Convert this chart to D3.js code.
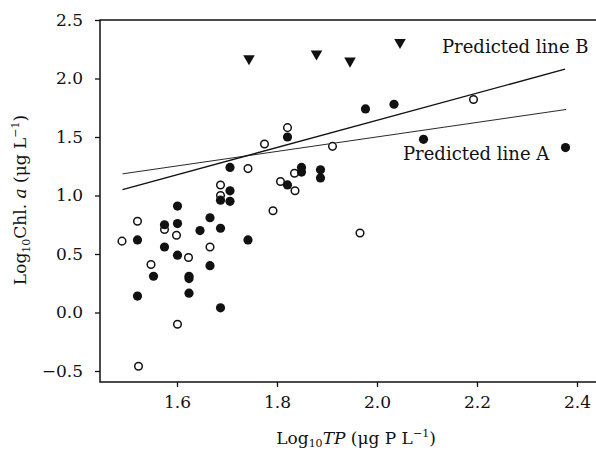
<!DOCTYPE html>
<html lang="en">
<head>
    <meta charset="UTF-8">
    <script src="https://d3js.org/d3.v7.min.js"></script>
    <style>
        body { margin: 0; background: #fff; }
        svg text { font-family: "DejaVu Serif", serif; fill: #111; }
    </style>
</head>
<body>
<div id="chart"></div>
<script>
// Open circles
var openTP  = [1.49, 1.521, 1.575, 1.599, 1.623, 1.548, 1.666, 1.601, 1.523, 1.821, 1.775, 1.742, 1.687, 1.687, 1.807, 1.835, 1.836, 1.792, 1.911, 2.193, 1.966];
var openChl = [0.61, 0.78, 0.71, 0.66, 0.47, 0.41, 0.56, -0.10, -0.46, 1.58, 1.44, 1.23, 1.09, 1.00, 1.12, 1.19, 1.04, 0.87, 1.42, 1.82, 0.68];

// Filled circles
var filledTP  = [1.521, 1.521, 1.575, 1.575, 1.601, 1.601, 1.601, 1.553, 1.624, 1.624, 1.624, 1.646, 1.666, 1.666, 1.687, 1.687, 1.687, 1.742, 1.706, 1.706, 1.706, 1.821, 1.849, 1.849, 1.821, 1.887, 1.887, 1.977, 2.034, 2.093, 2.377];
var filledChl = [0.62, 0.14, 0.75, 0.56, 0.76, 0.49, 0.91, 0.31, 0.31, 0.29, 0.165, 0.70, 0.40, 0.81, 0.72, 0.04, 0.96, 0.62, 1.24, 1.04, 0.95, 1.50, 1.24, 1.20, 1.09, 1.22, 1.15, 1.74, 1.78, 1.48, 1.41];

// Inverted triangles
var triTP  = [1.744, 1.879, 1.946, 2.046];
var triChl = [2.17, 2.21, 2.15, 2.31];

// Predicted lines (end points)
var lineA_TP = [1.491, 2.378], lineA_Chl = [1.185, 1.735];
var lineB_TP = [1.491, 2.376], lineB_Chl = [1.05, 2.08];

var xTicks = [1.6, 1.8, 2.0, 2.2, 2.4];
var yTicks = [-0.5, 0.0, 0.5, 1.0, 1.5, 2.0, 2.5];

var W = 596, H = 450;
var margin = { top: 20, right: -2, bottom: 68, left: 100 };
var width = W - margin.left - margin.right,
    height = H - margin.top - margin.bottom;

var svg = d3.select("#chart").append("svg")
    .attr("width", W).attr("height", H)
  .append("g")
    .attr("transform", `translate(${margin.left},${margin.top})`);

var x = d3.scaleLinear().domain([1.446, 1.446 + width / 500]).range([0, width]);
var y = d3.scaleLinear().domain([-0.594, 2.5]).range([height, 0]);

// axes
var xAxis = svg.append("g")
    .attr("transform", `translate(0,${height})`)
    .call(d3.axisBottom(x).tickValues(xTicks).tickFormat(d3.format(".1f")).tickSize(5).tickPadding(9));
var yAxis = svg.append("g")
    .call(d3.axisLeft(y).tickValues(yTicks).tickFormat(function(d) { return d3.format(".1f")(d).replace("-", "\u2212"); }).tickSize(5).tickPadding(12));
[xAxis, yAxis].forEach(function(a) {
    a.select(".domain").remove();
    a.selectAll("line").attr("stroke", "#111").attr("stroke-width", 1.3);
    a.selectAll("text").style("font-size", "17px").attr("fill", "#111");
});

// frame (left, top, bottom)
svg.append("path")
    .attr("d", `M${width},0H0V${height}H${width}`)
    .attr("fill", "none").attr("stroke", "#111").attr("stroke-width", 1.5);

// predicted lines
var line = d3.line().x(function(d) { return x(d[0]); }).y(function(d) { return y(d[1]); });
svg.append("path")
    .datum(d3.zip(lineA_TP, lineA_Chl))
    .attr("d", line).attr("fill", "none").attr("stroke", "#111").attr("stroke-width", 0.9);
svg.append("path")
    .datum(d3.zip(lineB_TP, lineB_Chl))
    .attr("d", line).attr("fill", "none").attr("stroke", "#111").attr("stroke-width", 1.4);

// open circles
svg.selectAll(".open").data(d3.zip(openTP, openChl)).enter()
    .append("circle").attr("class", "open")
    .attr("cx", function(d) { return x(d[0]); })
    .attr("cy", function(d) { return y(d[1]); })
    .attr("r", 3.8)
    .attr("fill", "#fff").attr("stroke", "#111").attr("stroke-width", 1.5);

// filled circles
svg.selectAll(".filled").data(d3.zip(filledTP, filledChl)).enter()
    .append("circle").attr("class", "filled")
    .attr("cx", function(d) { return x(d[0]); })
    .attr("cy", function(d) { return y(d[1]); })
    .attr("r", 4.6)
    .attr("fill", "#111");

// triangles
svg.selectAll(".tri").data(d3.zip(triTP, triChl)).enter()
    .append("path").attr("class", "tri")
    .attr("d", d3.symbol().type(d3.symbolTriangle).size(58))
    .attr("transform", function(d) { return `translate(${x(d[0])},${y(d[1])}) rotate(180)`; })
    .attr("fill", "#111");

// line labels
svg.append("text")
    .attr("x", x(2.13)).attr("y", y(2.214))
    .style("font-size", "18px")
    .text("Predicted line B");
svg.append("text")
    .attr("x", x(2.052)).attr("y", y(1.30))
    .style("font-size", "18px")
    .text("Predicted line A");

// x axis label
var xl = svg.append("text")
    .attr("x", 256).attr("y", 424)
    .attr("text-anchor", "middle")
    .style("font-size", "17px");
xl.append("tspan").text("Log");
xl.append("tspan").attr("dy", 3).style("font-size", "11px").text("10");
xl.append("tspan").attr("dy", -3).style("font-style", "italic").text("TP");
xl.append("tspan").text(" (\u03bcg P L");
xl.append("tspan").attr("dy", -7).style("font-size", "11px").text("\u22121");
xl.append("tspan").attr("dy", 7).text(")");

// y axis label
var yl = svg.append("text")
    .attr("transform", `translate(-74,${180}) rotate(-90)`)
    .attr("text-anchor", "middle")
    .style("font-size", "17px");
yl.append("tspan").text("Log");
yl.append("tspan").attr("dy", 4).style("font-size", "11px").text("10");
yl.append("tspan").attr("dy", -4).text("Chl. ");
yl.append("tspan").style("font-style", "italic").text("a");
yl.append("tspan").text(" (\u03bcg L");
yl.append("tspan").attr("dy", -7).style("font-size", "11px").text("\u22121");
yl.append("tspan").attr("dy", 7).text(")");
</script>
</body>
</html>
